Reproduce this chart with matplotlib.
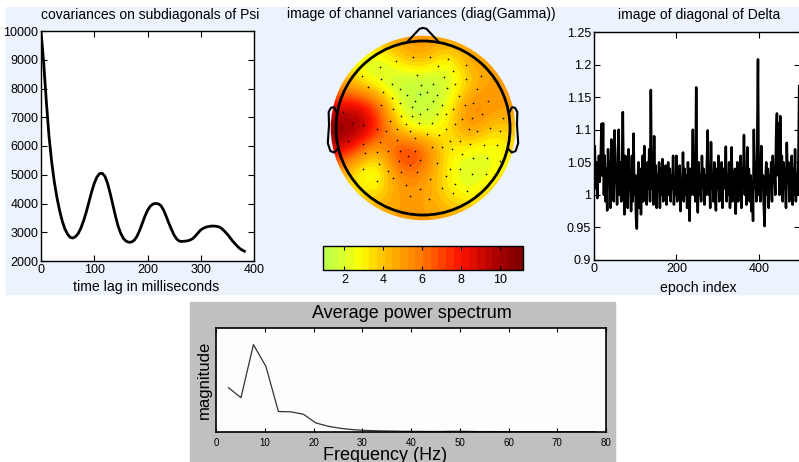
"""Recreate the EEG model summary figure: covariance lags, channel
variance topography, epoch scaling and the average power spectrum."""

import matplotlib.pyplot as plt
import numpy as np
from matplotlib.colors import LinearSegmentedColormap, Normalize
from matplotlib.patches import Circle, Rectangle
from matplotlib.ticker import FormatStrFormatter

plt.rcParams["font.family"] = ["Liberation Sans", "DejaVu Sans"]

# covariances on the subdiagonals of Psi
lag_ms = [0, 5, 10, 15, 20, 25, 30, 35, 40, 45, 50, 55, 60, 65, 70, 75, 80,
          85, 90, 95, 100, 105, 110, 115, 120, 125, 130, 135, 140, 145, 150,
          155, 160, 165, 170, 175, 180, 185, 190, 195, 200, 205, 210, 215,
          220, 225, 230, 235, 240, 245, 250, 255, 260, 265, 270, 275, 280,
          285, 290, 295, 300, 305, 310, 315, 320, 325, 330, 335, 340, 345,
          350, 355, 360, 365, 370, 375, 382]
psi_cov = [10000, 8900, 7550, 6350, 5450, 4750, 4200, 3750, 3380, 3110, 2930,
           2820, 2800, 2850, 2960, 3150, 3400, 3700, 4050, 4400, 4700, 4920,
           5040, 5050, 4950, 4700, 4350, 3950, 3550, 3200, 2950, 2780, 2690,
           2650, 2660, 2720, 2850, 3050, 3300, 3550, 3760, 3900, 3980, 4000,
           3990, 3930, 3780, 3560, 3320, 3100, 2900, 2760, 2690, 2680, 2690,
           2700, 2730, 2780, 2870, 2980, 3080, 3140, 3180, 3200, 3215, 3215,
           3205, 3180, 3120, 3030, 2930, 2810, 2690, 2590, 2490, 2410, 2340]

# diagonal of Delta, one value every second epoch
delta_diag = [
    1.04, 1.075, 1.01, 1.05, 0.995, 1.03, 1.06, 1.02, 1.045, 1.109,
    1.03, 1.11, 1.00, 1.06, 0.99, 1.04, 0.976, 1.07, 1.02, 1.05,
    0.98, 1.085, 1.01, 1.06, 0.99, 1.099, 1.02, 1.04, 0.985, 1.065,
    1.10, 1.00, 1.05, 0.99, 1.04, 1.127, 1.01, 0.97, 1.06, 1.00,
    1.04, 0.98, 1.07, 1.01, 1.03, 0.975, 1.06, 0.99, 1.094, 1.00,
    1.03, 0.965, 0.948, 1.02, 1.05, 0.98, 1.04, 0.97, 1.01, 1.06,
    0.99, 1.075, 1.00, 1.03, 0.985, 1.05, 1.01, 1.07, 0.99, 1.161,
    1.01, 1.06, 0.985, 1.09, 1.00, 1.045, 0.98, 1.03, 1.01, 1.05,
    0.98, 1.04, 1.00, 1.055, 0.99, 1.03, 1.01, 1.045, 0.985, 1.02,
    1.05, 1.00, 1.04, 0.99, 1.03, 1.01, 1.06, 0.985, 1.02, 1.00,
    1.06, 0.99, 1.03, 1.01, 1.045, 0.975, 1.02, 1.00, 1.065, 0.99,
    1.04, 1.00, 1.03, 0.98, 1.05, 1.01, 0.96, 1.04, 1.00, 1.03,
    1.10, 1.00, 1.04, 0.99, 1.165, 1.02, 0.973, 1.05, 1.00, 1.03,
    0.99, 1.06, 1.01, 1.04, 0.985, 1.03, 1.00, 1.05, 1.099, 1.00,
    1.04, 0.98, 1.081, 1.01, 1.03, 0.99, 1.05, 1.00, 0.976, 1.04,
    1.01, 1.06, 0.99, 1.03, 1.00, 1.05, 0.98, 1.04, 1.01, 1.02,
    1.074, 0.99, 1.03, 1.00, 1.05, 0.98, 1.02, 1.073, 0.99, 1.03,
    1.00, 1.04, 0.971, 1.02, 1.05, 0.99, 1.03, 1.00, 1.06, 0.98,
    1.04, 1.01, 1.092, 1.00, 1.03, 0.985, 1.073, 1.01, 1.04, 0.99,
    1.03, 0.975, 1.02, 0.960, 1.100, 1.01, 1.05, 0.99, 1.07, 1.208,
    1.00, 1.04, 0.99, 1.075, 1.01, 1.03, 0.985, 0.952, 1.02, 1.05,
    1.00, 1.04, 0.98, 1.03, 1.01, 1.05, 0.99, 1.06, 1.02, 1.04,
    1.00, 1.09, 1.125, 1.03, 1.11, 1.00, 1.121, 1.02, 1.06, 0.99,
    1.05, 1.01, 1.04, 0.98, 1.08, 1.02, 1.05, 0.99, 1.03, 1.01,
    1.06, 0.985, 1.04, 1.00, 1.07, 0.99, 1.03, 1.00, 1.05, 1.167,
]
epochs = np.arange(len(delta_diag)) * 2

# channel variances on a coarse 9x9 grid over the scalp (top row = front)
gamma_grid = [
    [5.0, 5.0, 5.0, 5.0, 5.5, 5.0, 5.0, 5.0, 5.0],
    [4.5, 2.5, 1.5, 4.0, 5.0, 2.5, 5.0, 5.0, 5.0],
    [5.0, 3.5, 2.0, 1.0, 1.0, 1.3, 3.5, 5.0, 5.0],
    [8.0, 9.0, 7.0, 1.8, 1.0, 2.0, 6.0, 5.5, 5.0],
    [11.0, 11.0, 8.5, 3.0, 1.8, 3.0, 6.0, 3.5, 4.0],
    [9.0, 7.5, 3.2, 8.5, 7.5, 3.0, 2.5, 2.0, 3.5],
    [5.0, 2.5, 1.5, 6.0, 5.5, 3.0, 1.5, 2.5, 4.0],
    [5.0, 4.0, 3.5, 5.0, 5.0, 3.5, 2.5, 4.0, 5.0],
    [5.0, 5.0, 5.0, 5.0, 5.0, 5.0, 5.0, 5.0, 5.0],
]
gamma_range = (0.9, 11.2)

# electrode positions, head radius = 1
elec_x = [-0.12, -0.31, -0.49, -0.70, -0.48, -0.07, -0.36, -0.63, -0.27,
          -0.02, -0.46, -0.18, -0.36, -0.03, -0.09, -0.26, -0.48, -0.92,
          -0.34, -0.13, -0.25, -0.13, -0.04, -0.38, -0.53, -0.69, -0.82,
          -0.19, -0.05, -0.30, -0.15, -0.42, -0.09, -0.30, -0.49, -0.69,
          -0.86, -0.26, -0.09, -0.40, -0.53, -0.67, -0.17, -0.03, -0.28,
          -0.51, -0.69, -0.15, -0.40, -0.25, -0.07, -0.53, -0.19, -0.03,
          -0.34, -0.15,
          0.08, 0.29, 0.49, 0.17, 0.34, 0.24, 0.49, 0.67, 0.12, 0.37, 0.28,
          0.62, 0.05, 0.16, 0.41, 0.48, 0.58, 0.75, 0.12, 0.22, 0.35, 0.05,
          0.16, 0.26, 0.68, 0.56, 0.45, 0.92, 0.10, 0.37, 0.26, 0.53, 0.62,
          0.77, 0.89, 0.05, 0.18, 0.31, 0.43, 0.54, 0.70, 0.85, 0.10, 0.22,
          0.33, 0.45, 0.58, 0.74, 0.89, 0.16, 0.43, 0.31, 0.56, 0.72, 0.08,
          0.26, 0.37, 0.22, 0.51, 0.07, 0.35]
elec_y = [0.82, 0.77, 0.70, 0.60, 0.56, 0.61, 0.51, 0.47, 0.45, 0.49, 0.41,
          0.38, 0.35, 0.39, 0.31, 0.29, 0.26, 0.18, 0.22, 0.24, 0.14, 0.14,
          0.16, 0.08, -0.01, 0.03, 0.06, 0.05, 0.06, -0.01, -0.03, -0.03,
          -0.11, -0.14, -0.16, -0.18, -0.15, -0.26, -0.26, -0.27, -0.28,
          -0.29, -0.32, -0.37, -0.38, -0.41, -0.47, -0.43, -0.49, -0.51,
          -0.51, -0.61, -0.66, -0.70, -0.57, -0.78,
          0.82, 0.79, 0.72, 0.71, 0.65, 0.59, 0.56, 0.60, 0.51, 0.51, 0.46,
          0.45, 0.41, 0.38, 0.37, 0.26, 0.29, 0.31, 0.31, 0.27, 0.22, 0.22,
          0.16, 0.16, 0.16, 0.12, 0.10, 0.12, 0.06, 0.05, -0.01, -0.01,
          -0.03, 0.00, -0.03, -0.07, -0.08, -0.15, -0.15, -0.18, -0.19,
          -0.19, -0.22, -0.22, -0.24, -0.30, -0.34, -0.34, -0.38, -0.40,
          -0.47, -0.47, -0.53, -0.53, -0.59, -0.55, -0.64, -0.69, -0.72,
          -0.82, -0.75]

# average power spectrum
freq_hz = [2.56, 5.12, 7.68, 10.24, 12.8, 15.36, 17.92, 20.48, 23.04, 25.6,
           28.16, 30.72, 33.28, 35.84, 38.4, 40.96, 43.52, 46.08, 48.64,
           51.2, 53.76, 56.32, 58.88, 61.44, 64.0, 66.56, 69.12, 71.68,
           74.24, 76.8, 78.0]
magnitude = [0.426, 0.33, 0.84, 0.63, 0.197, 0.194, 0.171, 0.087, 0.055,
             0.035, 0.022, 0.015, 0.011, 0.009, 0.007, 0.006, 0.005, 0.005,
             0.007, 0.006, 0.004, 0.004, 0.003, 0.003, 0.003, 0.003, 0.002,
             0.002, 0.002, 0.002, 0.002]

# head outline pieces (EEGLAB style), head radius = 1
nose_x = [0.18, 0.04, 0.0, -0.04, -0.18]
nose_y = [0.99, 1.14, 1.15, 1.14, 0.99]
ear_x = [0.994, 1.02, 1.036, 1.06, 1.084, 1.08, 1.094, 1.064, 1.02, 0.978]
ear_y = [0.183, 0.236, 0.238, 0.229, 0.183, 0.037, -0.174, -0.265, -0.282,
         -0.238]

W, H = 799, 462


def px_axes(fig, x0, y0, x1, y1):
    """Add axes given by pixel corners (top-left origin)."""
    return fig.add_axes([x0 / W, 1 - y1 / H, (x1 - x0) / W, (y1 - y0) / H])


def matlab_ticks(ax, size=9):
    ax.tick_params(direction="in", top=True, right=True, length=4,
                   width=0.8, labelsize=size, pad=2)
    for s in ax.spines.values():
        s.set_linewidth(1.0)


fig = plt.figure(figsize=(W / 100, H / 100), dpi=100)

# panel backgrounds
fig.patches.append(Rectangle((6 / W, 1 - 294 / H), 793 / W, 287 / H,
                             transform=fig.transFigure, color="#ecf3fc",
                             zorder=-10))
fig.patches.append(Rectangle((190 / W, 0), 425 / W, 160 / H,
                             transform=fig.transFigure, color="#c0c0c0",
                             zorder=-10))

# left: covariances
ax1 = px_axes(fig, 41, 31, 254, 261)
ax1.plot(lag_ms, psi_cov, color="k", lw=2)
ax1.set_xlim(0, 400)
ax1.set_ylim(2000, 10000)
ax1.set_xticks([0, 100, 200, 300, 400])
ax1.set_yticks(range(2000, 10001, 1000))
matlab_ticks(ax1)
fig.text(150 / W, 1 - 15 / H, "covariances on subdiagonals of Psi",
         ha="center", va="center", fontsize=10)
fig.text(146 / W, 1 - 287 / H, "time lag in milliseconds",
         ha="center", va="center", fontsize=10.2)

# right: diagonal of Delta
ax3 = px_axes(fig, 594, 32, 800, 260)
ax3.plot(epochs, delta_diag, color="k", lw=1.8)
ax3.set_xlim(0, 500)
ax3.set_ylim(0.9, 1.25)
ax3.set_xticks([0, 200, 400])
ax3.set_yticks(np.arange(0.9, 1.2501, 0.05))
ax3.yaxis.set_major_formatter(FormatStrFormatter("%g"))
matlab_ticks(ax3)
fig.text(699 / W, 1 - 15 / H, "image of diagonal of Delta",
         ha="center", va="center", fontsize=10)
fig.text(698 / W, 1 - 288 / H, "epoch index",
         ha="center", va="center", fontsize=10.2)

# middle: topography of channel variances
cmap = LinearSegmentedColormap.from_list(
    "gyr",
    [(0.0, "#bfff46"), (0.107, "#e0ff28"), (0.175, "#ffff00"),
     (0.30, "#ffbe00"), (0.495, "#ff7800"), (0.69, "#ff1400"),
     (0.88, "#aa0000"), (1.0, "#800000")], N=26)
norm = Normalize(*gamma_range)

ax2 = px_axes(fig, 313, 18, 533, 238)
ax2.set_xlim(-1.264, 1.264)
ax2.set_ylim(-1.264, 1.264)
ax2.set_aspect("equal")
ax2.axis("off")
half = 1.06 + 1.06 / 8
img = ax2.imshow(np.array(gamma_grid), cmap=cmap, norm=norm,
                 extent=[-half, half, -half, half], origin="upper",
                 interpolation="bicubic", zorder=1)
img.set_clip_path(Circle((0, 0), 1.06, transform=ax2.transData))
ax2.plot(elec_x, elec_y, "o", color="k", ms=1.2, mew=0, zorder=3)
ax2.add_patch(Circle((0, 0), 1.0, fill=False, lw=2, ec="k", zorder=4))
ax2.plot(nose_x, nose_y, color="k", lw=1.5, zorder=4)
ax2.plot(ear_x, ear_y, color="k", lw=1.5, zorder=4)
ax2.plot(-np.array(ear_x), ear_y, color="k", lw=1.5, zorder=4)
fig.text(421 / W, 1 - 14 / H, "image of channel variances (diag(Gamma))",
         ha="center", va="center", fontsize=10)

cax = px_axes(fig, 323, 246, 523, 270)
cb = fig.colorbar(plt.cm.ScalarMappable(norm=norm, cmap=cmap), cax=cax,
                  orientation="horizontal")
cb.set_ticks([2, 4, 6, 8, 10])
cb.outline.set_linewidth(1.0)
cax.tick_params(direction="in", top=True, length=3, width=0.8,
                labelsize=9, pad=3)

# bottom: average power spectrum
ax4 = px_axes(fig, 216, 328, 606, 432)
ax4.set_facecolor("#fdfdfd")
ax4.plot(freq_hz, magnitude, color="#333333", lw=0.9)
ax4.set_xlim(0, 80)
ax4.set_ylim(0, 1.0)
ax4.set_xticks(range(0, 81, 10))
ax4.set_yticks([])
ax4.tick_params(direction="in", top=True, length=3, width=0.8,
                labelsize=7, pad=4)
for s in ax4.spines.values():
    s.set_linewidth(1.2)
ax4.set_ylabel("magnitude", fontsize=12, labelpad=3)
fig.text(412 / W, 1 - 314 / H, "Average power spectrum",
         ha="center", va="center", fontsize=13)
fig.text(385 / W, 1 - 460 / H, "Frequency (Hz)",
         ha="center", va="baseline", fontsize=13)

fig.savefig("out.png", dpi=100)
